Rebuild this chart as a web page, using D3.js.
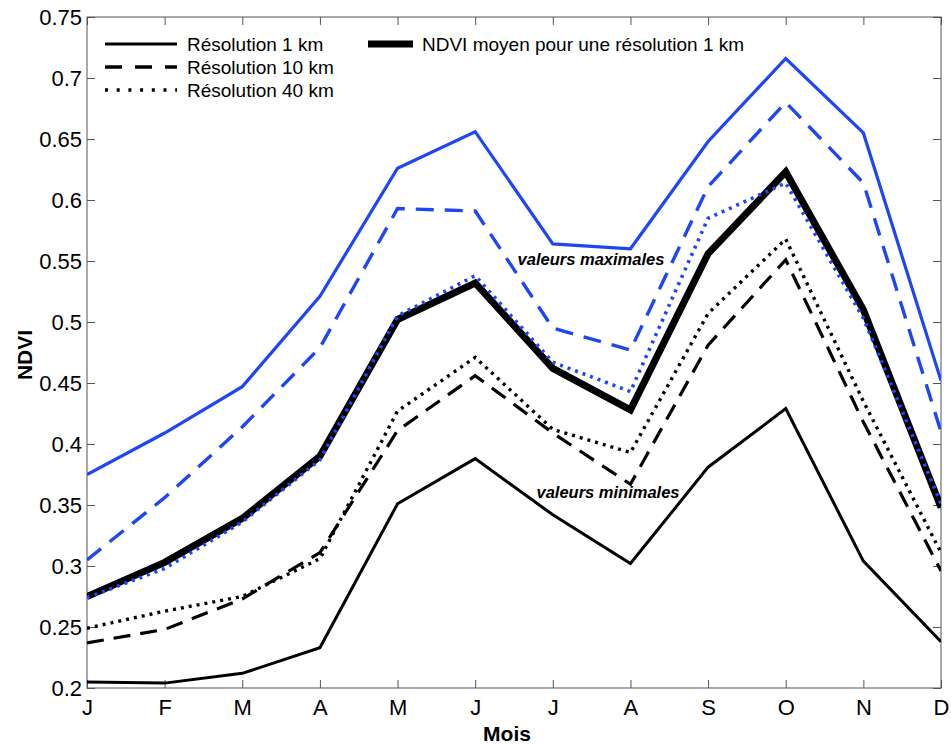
<!DOCTYPE html>
<html>
<head>
<meta charset="utf-8">
<script src="https://cdn.jsdelivr.net/npm/d3@7"></script>
<style>
  html, body { margin: 0; padding: 0; background: #fff; }
  svg { display: block; font-family: "Liberation Sans", Arial, sans-serif; }
</style>
</head>
<body>
<svg id="chart" width="951" height="745"></svg>
<script>
const months = ["J","F","M","A","M","J","J","A","S","O","N","D"];
const yTicks = [0.2,0.25,0.3,0.35,0.4,0.45,0.5,0.55,0.6,0.65,0.7,0.75];
const yTickLabels = ["0.2","0.25","0.3","0.35","0.4","0.45","0.5","0.55","0.6","0.65","0.7","0.75"];

const max1km  = [0.375,0.409,0.447,0.521,0.626,0.656,0.564,0.560,0.648,0.716,0.655,0.452];
const max10km = [0.305,0.356,0.414,0.479,0.593,0.591,0.495,0.477,0.611,0.680,0.614,0.410];
const max40km = [0.274,0.298,0.336,0.387,0.505,0.538,0.467,0.443,0.585,0.614,0.503,0.351];
const mean1km = [0.275,0.303,0.339,0.390,0.502,0.532,0.462,0.428,0.556,0.623,0.510,0.348];
const min40km = [0.249,0.263,0.275,0.306,0.427,0.471,0.412,0.393,0.507,0.568,0.435,0.311];
const min10km = [0.237,0.248,0.273,0.311,0.411,0.456,0.409,0.367,0.481,0.551,0.418,0.296];
const min1km  = [0.205,0.204,0.212,0.233,0.351,0.388,0.342,0.302,0.381,0.429,0.304,0.238];

const legendLabels = ["Résolution 1 km","Résolution 10 km","Résolution 40 km","NDVI moyen pour une résolution 1 km"];
const annotations = ["valeurs maximales","valeurs minimales"];

const BLUE = "#1e46f5";
const L = 87, R = 941, T = 17, B = 688;
const svg = d3.select("#chart");

const x = d3.scaleLinear().domain([0, months.length - 1]).range([L, R]);
const y = d3.scaleLinear().domain([0.2, 0.75]).range([B, T]);

// clip
svg.append("defs").append("clipPath").attr("id","clip")
  .append("rect").attr("x", L).attr("y", T).attr("width", R - L).attr("height", B - T);

const idx = d3.range(months.length);
const fmtMonth = i => months[i];
const fmtY = v => yTickLabels[yTicks.indexOf(v)];

function styleAxis(g){
  g.select(".domain").remove();
  g.selectAll(".tick line").attr("stroke","#555").attr("stroke-width",1);
  g.selectAll(".tick text").attr("fill","#000").attr("font-size",22);
}

// bottom axis
svg.append("g").attr("transform",`translate(0,${B})`)
  .call(d3.axisBottom(x).tickValues(idx).tickFormat(fmtMonth).tickSizeInner(-8).tickSizeOuter(0).tickPadding(6))
  .call(styleAxis)
  .call(g => g.selectAll(".tick text").attr("dy","0.78em").attr("y",10));
// top axis
svg.append("g").attr("transform",`translate(0,${T})`)
  .call(d3.axisTop(x).tickValues(idx).tickFormat("").tickSizeInner(-8).tickSizeOuter(0))
  .call(styleAxis);
// left axis
svg.append("g").attr("transform",`translate(${L},0)`)
  .call(d3.axisLeft(y).tickValues(yTicks).tickFormat(fmtY).tickSizeInner(-8).tickSizeOuter(0).tickPadding(5))
  .call(styleAxis);
// right axis
svg.append("g").attr("transform",`translate(${R},0)`)
  .call(d3.axisRight(y).tickValues(yTicks).tickFormat("").tickSizeInner(-8).tickSizeOuter(0))
  .call(styleAxis);

// frame
svg.append("rect").attr("x", L).attr("y", T).attr("width", R - L).attr("height", B - T)
  .attr("fill","none").attr("stroke","#555").attr("stroke-width",1);

const line = d3.line().x((d,i) => x(i)).y(d => y(d));
const plot = svg.append("g").attr("clip-path","url(#clip)");

const series = [
  {data: min1km,  color:"#000", width:3,   dash:null},
  {data: min10km, color:"#000", width:3.2, dash:"17,10"},
  {data: min40km, color:"#000", width:3.4, dash:"3,5"},
  {data: mean1km, color:"#000", width:7,   dash:null},
  {data: max1km,  color:BLUE,   width:3.2, dash:null},
  {data: max10km, color:BLUE,   width:3.4, dash:"18,11"},
  {data: max40km, color:BLUE,   width:3.6, dash:"3,5"}
];
series.forEach(s => {
  plot.append("path").datum(s.data)
    .attr("d", line)
    .attr("fill","none")
    .attr("stroke", s.color)
    .attr("stroke-width", s.width)
    .attr("stroke-linejoin","miter")
    .attr("stroke-dasharray", s.dash);
});

// annotations
svg.append("text").attr("x", 591).attr("y", 265).attr("text-anchor","middle")
  .attr("font-size",16.5).attr("font-weight","bold").attr("font-style","italic").text(annotations[0]);
svg.append("text").attr("x", 608).attr("y", 498).attr("text-anchor","middle")
  .attr("font-size",16.5).attr("font-weight","bold").attr("font-style","italic").text(annotations[1]);

// legend
const leg = svg.append("g");
const legRows = [
  {x1:105, x2:177, yy:44, w:3, dash:null, tx:187, ty:51, label:legendLabels[0]},
  {x1:105, x2:177, yy:67, w:3.4, dash:"17,13", tx:187, ty:74, label:legendLabels[1]},
  {x1:105, x2:177, yy:90, w:3.4, dash:"3,8.7", tx:187, ty:97, label:legendLabels[2]},
  {x1:368, x2:413, yy:44, w:7, dash:null, tx:422, ty:51, label:legendLabels[3]}
];
legRows.forEach(r => {
  leg.append("line").attr("x1", r.x1).attr("x2", r.x2).attr("y1", r.yy).attr("y2", r.yy)
    .attr("stroke","#000").attr("stroke-width", r.w).attr("stroke-dasharray", r.dash);
  leg.append("text").attr("x", r.tx).attr("y", r.ty).attr("font-size",19).attr("fill","#000").text(r.label);
});

// axis titles
svg.append("text").attr("x", (L + R) / 2 - 7).attr("y", 741).attr("text-anchor","middle")
  .attr("font-size",21).attr("font-weight","bold").text("Mois");
svg.append("text").attr("transform","translate(32,355) rotate(-90)").attr("text-anchor","middle")
  .attr("font-size",21).attr("font-weight","bold").text("NDVI");
</script>
</body>
</html>
